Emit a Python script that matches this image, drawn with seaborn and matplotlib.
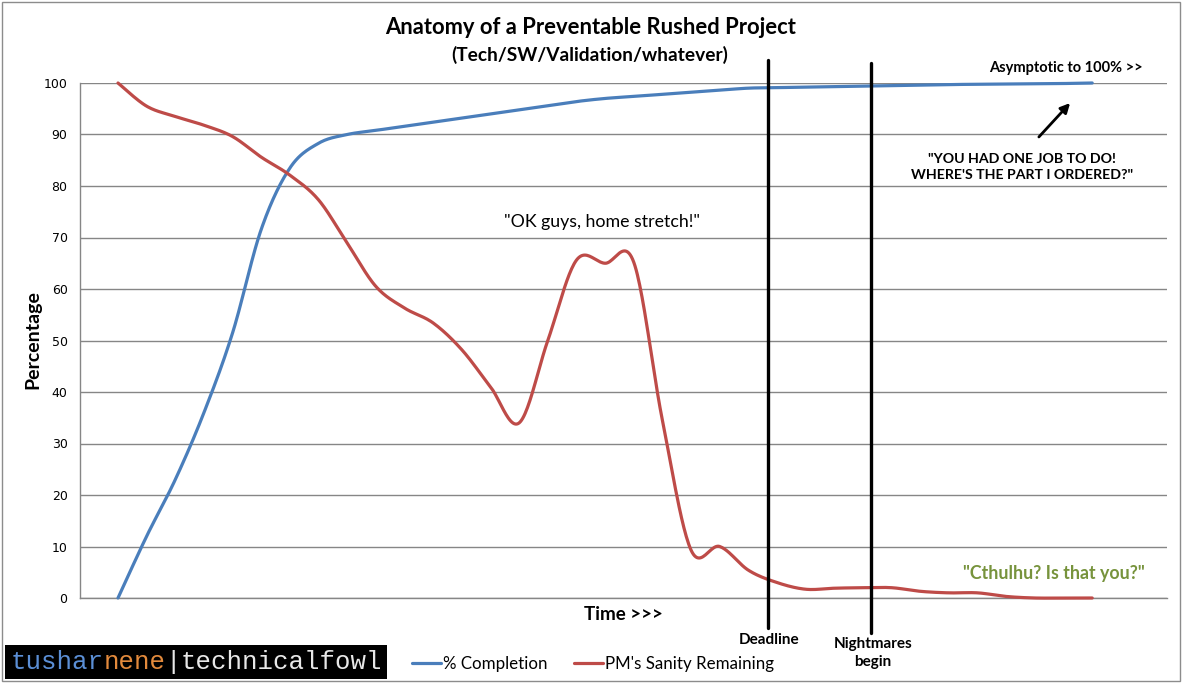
import matplotlib
matplotlib.use("Agg")
import matplotlib.pyplot as plt
import numpy as np
import seaborn as sns
from matplotlib.patches import Rectangle

# ---- data (35 evenly spaced time steps) ----
time_steps = list(range(35))
completion = [0, 12, 23, 36, 51.5, 71.6, 83.5, 88.3, 90, 90.8, 91.6, 92.4, 93.2, 94,
              94.8, 95.6, 96.4, 97, 97.4, 97.8, 98.2, 98.6, 99, 99.1, 99.2, 99.3,
              99.4, 99.5, 99.6, 99.7, 99.75, 99.8, 99.85, 99.9, 100]
sanity = [100, 95.5, 93.5, 91.8, 89.6, 85.6, 82.1, 77.3, 68.9, 60.5, 56.3, 53.4,
          48.2, 41, 34, 50, 65.6, 65, 65.2, 34.5, 9.3, 10, 5.4, 3, 1.7, 1.9, 2, 2,
          1.3, 1, 1, 0.3, 0, 0, 0]
series_names = ["% Completion", "PM's Sanity Remaining"]
y_ticks = list(range(0, 101, 10))

W, H = 1183, 684
BLUE = "#4a7ebb"
RED = "#be4b48"
GRID = "#868686"
FONT = "Lato"


def smooth(x, y, n=24):
    """Excel-like smoothed line: cubic Bezier through the points (Catmull-Rom)."""
    x = np.asarray(x, float)
    y = np.asarray(y, float)
    xs, ys = [], []
    for i in range(len(x) - 1):
        p0 = (x[max(i - 1, 0)], y[max(i - 1, 0)])
        p1 = (x[i], y[i])
        p2 = (x[i + 1], y[i + 1])
        p3 = (x[min(i + 2, len(x) - 1)], y[min(i + 2, len(x) - 1)])
        c1 = (p1[0] + (p2[0] - p0[0]) / 6, p1[1] + (p2[1] - p0[1]) / 6)
        c2 = (p2[0] - (p3[0] - p1[0]) / 6, p2[1] - (p3[1] - p1[1]) / 6)
        t = np.linspace(0, 1, n, endpoint=False)
        for k in range(2):
            pts = [p1[k], c1[k], c2[k], p2[k]]
            v = ((1 - t) ** 3 * pts[0] + 3 * (1 - t) ** 2 * t * pts[1]
                 + 3 * (1 - t) * t ** 2 * pts[2] + t ** 3 * pts[3])
            (xs if k == 0 else ys).extend(v)
    xs.append(x[-1])
    ys.append(y[-1])
    return np.array(xs), np.array(ys)


def fx(px):
    return px / W


def fy(py):
    return 1 - py / H


sns.set_style("white")
plt.rcParams["font.family"] = [FONT, "DejaVu Sans"]
plt.rcParams["text.color"] = "black"

fig = plt.figure(figsize=(W / 100, H / 100), dpi=100)
ax = fig.add_axes([fx(80), fy(598), (1167 - 80) / W, (598 - 83) / H])

for vals, name, col in zip([completion, sanity], series_names, [BLUE, RED]):
    sx, sy = smooth(time_steps, vals)
    sns.lineplot(x=sx, y=sy, sort=False, estimator=None, color=col, lw=2.3,
                 label=name, ax=ax, clip_on=False, zorder=3)

ax.set_xlim(-1.326, 36.61)
ax.set_ylim(0, 100)
ax.set_yticks(y_ticks)
ax.set_yticklabels([str(v) for v in y_ticks], fontsize=9, family="DejaVu Sans")
ax.set_xticks([])
ax.yaxis.grid(True, color=GRID, lw=1)
ax.set_axisbelow(True)
for s in ["top", "right"]:
    ax.spines[s].set_visible(False)
for s in ["left", "bottom"]:
    ax.spines[s].set_color(GRID)
    ax.spines[s].set_linewidth(1)
ax.tick_params(axis="y", length=6, color=GRID, width=1, pad=3, labelcolor="black")
ax.set_xlabel("")
ax.set_ylabel("")

# milestone lines
ax.plot([22.69, 22.69], [104.5, -5.8], color="black", lw=2.4, clip_on=False, zorder=4)
ax.plot([26.28, 26.28], [103.9, -6.8], color="black", lw=2.4, clip_on=False, zorder=4)

# legend
leg = ax.legend(loc="center", bbox_to_anchor=(fx(593), fy(664)),
                bbox_transform=fig.transFigure, ncol=2, frameon=False, fontsize=12.2,
                handlelength=1.7, handletextpad=0.15, columnspacing=1.55)
for t in leg.get_texts():
    t.set_color("black")

# titles and labels
fig.text(fx(591), fy(27), "Anatomy of a Preventable Rushed Project", ha="center",
         va="center", fontsize=15.8, fontweight="bold")
fig.text(fx(590), fy(55), "(Tech/SW/Validation/whatever)", ha="center", va="center",
         fontsize=13.8, fontweight="bold")
fig.text(fx(33), fy(340), "Percentage", rotation=90, ha="center", va="center",
         fontsize=14, fontweight="bold")
fig.text(fx(623), fy(614), "Time >>>", ha="center", va="center", fontsize=13.5,
         fontweight="bold")

# annotations
fig.text(fx(602), fy(222), '"OK guys, home stretch!"', ha="center", va="center",
         fontsize=12.8)
fig.text(fx(1143), fy(68), "Asymptotic to 100% >>", ha="right", va="center",
         fontsize=10.5, fontweight="bold")
fig.text(fx(1022), fy(167), '"YOU HAD ONE JOB TO DO!\nWHERE\'S THE PART I ORDERED?"',
         ha="center", va="center", fontsize=10.2, fontweight="bold", linespacing=1.4)
fig.text(fx(1145), fy(573), '"Cthulhu? Is that you?"', ha="right", va="center",
         fontsize=12.8, fontweight="bold", color="#77933c")
fig.text(fx(769), fy(640), "Deadline", ha="center", va="center", fontsize=11,
         fontweight="bold")
fig.text(fx(873), fy(653), "Nightmares\nbegin", ha="center", va="center", fontsize=11,
         fontweight="bold", linespacing=1.4)
ax.annotate("", xy=(fx(1072), fy(101)), xytext=(fx(1037), fy(139)),
            xycoords="figure fraction", textcoords="figure fraction",
            arrowprops=dict(arrowstyle="-|>", color="black", lw=2, mutation_scale=14))

# chart border
fig.add_artist(Rectangle((fx(2), fy(681)), (1180 - 2) / W, (681 - 2) / H,
                         transform=fig.transFigure, fill=False, edgecolor="#8c8c8c", lw=1))

# logo
fig.add_artist(Rectangle((fx(5), fy(679)), (387 - 5) / W, (679 - 645) / H,
                         transform=fig.transFigure, facecolor="black", edgecolor="none"))
cw = 15.4
parts = [("tushar", "#5b8fd6"), ("nene", "#e38a3c"), ("|", "#e8e8e8"),
         ("technicalfowl", "#e8e8e8")]
pos = 11
for txt, col in parts:
    fig.text(fx(pos), fy(662), txt, ha="left", va="center", color=col, fontsize=18.5,
             family="Liberation Mono")
    pos += cw * len(txt)

fig.savefig("out.png", dpi=100)
